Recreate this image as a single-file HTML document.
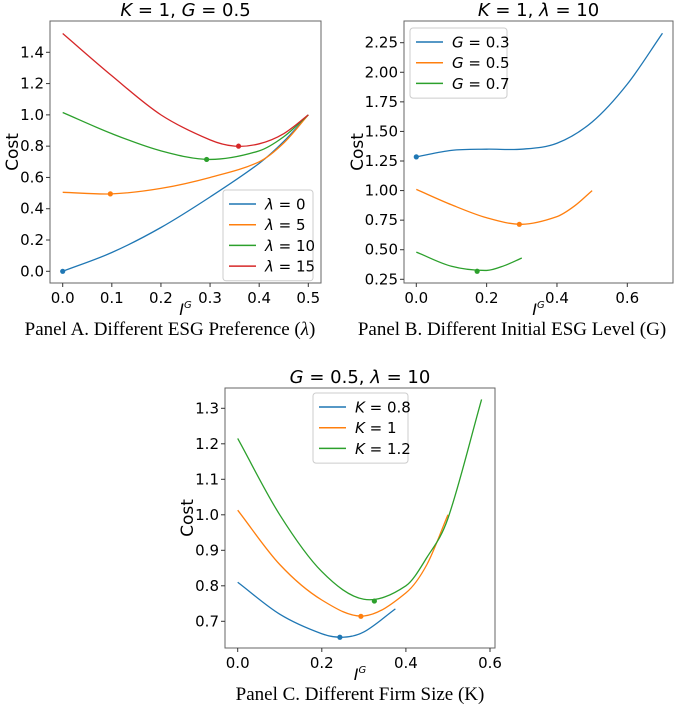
<!DOCTYPE html>
<html><head><meta charset="utf-8"><style>
body{margin:0;background:#fff;}
svg{display:block;font-family:"DejaVu Sans","Liberation Sans",sans-serif;}
.cap{font-family:"Liberation Serif",serif;font-size:19px;}
</style></head><body>
<svg id="fig" width="685" height="711" viewBox="0 0 685 711">
<text class="cap" x="170" y="335" text-anchor="middle">Panel A. Different ESG Preference (<tspan font-style="italic">λ</tspan>)</text>
<text class="cap" x="512" y="335" text-anchor="middle">Panel B. Different Initial ESG Level (G)</text>
<text class="cap" x="360" y="700" text-anchor="middle">Panel C. Different Firm Size (K)</text>
</svg>
<script>
const colors=['#1f77b4','#ff7f0e','#2ca02c','#d62728'];
// Panel A data
const aX=[[0,0.1,0.2,0.3,0.4,0.45,0.5],[0,0.1,0.2,0.3,0.4,0.45,0.5],[0,0.1,0.2,0.3,0.4,0.45,0.5],[0,0.1,0.2,0.3,0.35,0.4,0.45,0.5]];
const aY=[[0,0.12,0.28,0.475,0.69,0.83,1.0],[0.505,0.495,0.53,0.6,0.70,0.82,1.0],[1.015,0.88,0.77,0.715,0.77,0.86,1.0],[1.52,1.25,1.0,0.84,0.80,0.815,0.88,1.0]];
const aMinX=[0,0.097,0.293,0.358];
const aMinY=[0,0.495,0.715,0.80];
const aLegend=['λ = 0','λ = 5','λ = 10','λ = 15'];
const aXTicks=[0,0.1,0.2,0.3,0.4,0.5];
const aYTicks=[0,0.2,0.4,0.6,0.8,1.0,1.2,1.4];
// Panel B data
const bX=[[0,0.1,0.2,0.3,0.4,0.5,0.6,0.7],[0,0.1,0.2,0.3,0.4,0.45,0.5],[0,0.1,0.2,0.25,0.3]];
const bY=[[1.285,1.34,1.35,1.35,1.40,1.58,1.90,2.33],[1.01,0.88,0.77,0.715,0.78,0.87,1.0],[0.48,0.36,0.325,0.365,0.43]];
const bMinX=[0,0.293,0.173];
const bMinY=[1.285,0.715,0.318];
const bLegend=['G = 0.3','G = 0.5','G = 0.7'];
const bXTicks=[0,0.2,0.4,0.6];
const bYTicks=[0.25,0.5,0.75,1.0,1.25,1.5,1.75,2.0,2.25];
// Panel C data
const cX=[[0,0.1,0.2,0.25,0.3,0.375],[0,0.1,0.2,0.3,0.4,0.45,0.5],[0,0.1,0.2,0.3,0.4,0.45,0.5,0.58]];
const cY=[[0.81,0.72,0.665,0.655,0.67,0.735],[1.013,0.86,0.76,0.715,0.78,0.86,1.0],[1.215,1.0,0.84,0.762,0.8,0.88,0.99,1.325]];
const cMinX=[0.243,0.293,0.325];
const cMinY=[0.655,0.714,0.757];
const cLegend=['K = 0.8','K = 1','K = 1.2'];
const cXTicks=[0,0.2,0.4,0.6];
const cYTicks=[0.7,0.8,0.9,1.0,1.1,1.2,1.3];

const svg=document.getElementById('fig');
const NS='http://www.w3.org/2000/svg';
function mk(t,a,p){const e=document.createElementNS(NS,t);for(const k in a)e.setAttribute(k,a[k]);(p||svg).appendChild(e);return e;}
function smooth(pts){const n=pts.length;const m=pts.map((p,i)=>{const a=pts[Math.max(0,i-1)],b=pts[Math.min(n-1,i+1)];return (b[1]-a[1])/(b[0]-a[0]);});
  let d='M'+pts[0][0]+','+pts[0][1];
  for(let i=0;i<n-1;i++){const p1=pts[i],p2=pts[i+1],dx=(p2[0]-p1[0])/3;
    d+=' C'+(p1[0]+dx)+','+(p1[1]+m[i]*dx)+' '+(p2[0]-dx)+','+(p2[1]-m[i+1]*dx)+' '+p2[0]+','+p2[1];}
  return d;}
function panel(id,cfg){
  const g=mk('g',{});
  
  
  const sx=v=>cfg.x0+(v-cfg.xa)/(cfg.xb-cfg.xa)*(cfg.x1-cfg.x0);
  const sy=v=>cfg.y0+(v-cfg.ya)/(cfg.yb-cfg.ya)*(cfg.y1-cfg.y0);
  const fr=mk('rect',{x:cfg.L,y:cfg.T,width:cfg.R-cfg.L,height:cfg.B-cfg.T,fill:'none',stroke:'#666','stroke-width':1},g);
  
  
  cfg.xt.forEach(v=>{const x=sx(v);mk('line',{x1:x,x2:x,y1:cfg.B,y2:cfg.B+4,stroke:'#333'},g);
    const t=mk('text',{x:x,y:cfg.B+20,'text-anchor':'middle','font-size':15},g);t.textContent=v.toFixed(1);
    
    });
  cfg.yt.forEach(v=>{const y=sy(v);mk('line',{x1:cfg.L-4,x2:cfg.L,y1:y,y2:y,stroke:'#333'},g);
    const t=mk('text',{x:cfg.L-6,y:y+5,'text-anchor':'end','font-size':15},g);t.textContent=v.toFixed(cfg.yd);
    
    });
  const ti=mk('text',{x:(cfg.L+cfg.R)/2,y:cfg.T-5,'text-anchor':'middle','font-size':18},g);ti.innerHTML=cfg.title;
  
  
  const xl=mk('text',{x:(cfg.L+cfg.R)/2,y:cfg.B+32,'text-anchor':'middle','font-size':16,'font-style':'italic'},g);xl.innerHTML='I<tspan font-size="10" dy="-7">G</tspan>';
  
  
  const yl=mk('text',{x:0,y:0,'text-anchor':'middle','font-size':17,transform:'translate('+cfg.yl+','+(cfg.T+cfg.B)/2+') rotate(-90)'},g);yl.textContent='Cost';
  
  
  cfg.X.forEach((xs,i)=>{const pts=xs.map((v,j)=>[sx(v),sy(cfg.Y[i][j])]);
    const p=mk('path',{d:smooth(pts),fill:'none',stroke:colors[i],'stroke-width':1.3},g);
    
    });
  cfg.X.forEach((xs,i)=>{
    const c=mk('circle',{cx:sx(cfg.mx[i]),cy:sy(cfg.my[i]),r:2.6,fill:colors[i]},g);
    
    });
  const lg=cfg.lg;const n=cfg.leg.length;
  const lb=mk('rect',{x:lg[0],y:lg[1],width:lg[2],height:n*20.7+8,fill:'#fff',stroke:'#ccc',rx:3},g);
  
  
  cfg.leg.forEach((s,i)=>{const y=lg[1]+14+i*20.7;
    mk('line',{x1:lg[0]+6,x2:lg[0]+33,y1:y,y2:y,stroke:colors[i],'stroke-width':1.5},g);
    const t=mk('text',{x:lg[0]+42,y:y+5.5,'font-size':15},g);
    const parts=s.split(' = ');t.innerHTML='<tspan font-style="italic">'+parts[0]+'</tspan> = '+parts[1];
    
    });
}
panel('panel-a',{L:50,R:321,T:21,B:283,x0:62.7,x1:308.3,xa:0,xb:0.5,y0:271.3,y1:52.3,ya:0,yb:1.4,xt:aXTicks,yt:aYTicks,yd:1,X:aX,Y:aY,mx:aMinX,my:aMinY,leg:aLegend,lg:[223,190,90],yl:18,title:'<tspan font-style="italic">K</tspan> = 1, <tspan font-style="italic">G</tspan> = 0.5'});
panel('panel-b',{L:404,R:673,T:21,B:283,x0:416.3,x1:627.3,xa:0,xb:0.6,y0:279.3,y1:42.7,ya:0.25,yb:2.25,xt:bXTicks,yt:bYTicks,yd:2,X:bX,Y:bY,mx:bMinX,my:bMinY,leg:bLegend,lg:[410,28,97],yl:363,title:'<tspan font-style="italic">K</tspan> = 1, <tspan font-style="italic">λ</tspan> = 10'});
panel('panel-c',{L:225,R:495,T:388,B:648,x0:237.7,x1:490,xa:0,xb:0.6,y0:621.3,y1:408.3,ya:0.7,yb:1.3,xt:cXTicks,yt:cYTicks,yd:1,X:cX,Y:cY,mx:cMinX,my:cMinY,leg:cLegend,lg:[313,393,95],yl:193,title:'<tspan font-style="italic">G</tspan> = 0.5, <tspan font-style="italic">λ</tspan> = 10'});
</script>
</body></html>
